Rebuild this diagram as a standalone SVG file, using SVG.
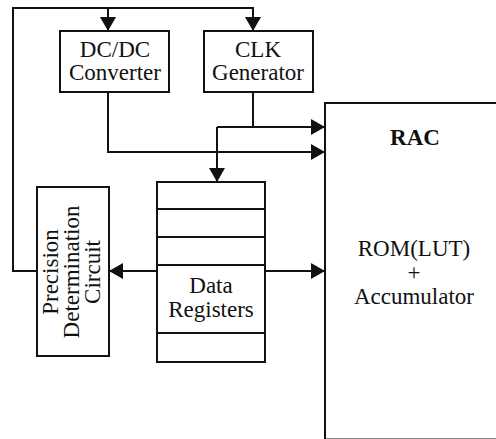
<svg xmlns="http://www.w3.org/2000/svg" width="496" height="439" viewBox="0 0 496 439">
<style>
.box{fill:#fff;stroke:#111;stroke-width:2}
.ln{fill:none;stroke:#111;stroke-width:2}
.t{font-family:"Liberation Serif","Times New Roman",serif;font-size:23px;fill:#111;text-anchor:middle}
.b{font-weight:bold}
</style>
<defs>
<marker id="ah" markerUnits="userSpaceOnUse" markerWidth="14" markerHeight="16" refX="14" refY="8" orient="auto">
<path d="M0,0 L14,8 L0,16 z" fill="#111"/>
</marker>
</defs>
<rect width="496" height="439" fill="#fff"/>
<g id="rac">
<rect class="box" x="325" y="103" width="200" height="336.5"/>
<text class="t b" x="415" y="145">RAC</text>
<text class="t" x="414" y="256">ROM(LUT)</text>
<text class="t" x="414" y="280">+</text>
<text class="t" x="414" y="304">Accumulator</text>
</g>
<g id="dcdc">
<rect class="box" x="60" y="31" width="109" height="61"/>
<text class="t" x="115" y="57">DC/DC</text>
<text class="t" x="115" y="80">Converter</text>
</g>
<g id="clk">
<rect class="box" x="204" y="31" width="109" height="61"/>
<text class="t" x="258" y="57">CLK</text>
<text class="t" x="258" y="80">Generator</text>
</g>
<g id="regs">
<rect class="box" x="157" y="182" width="108" height="180"/>
<path class="ln" d="M157,209 H265 M157,237 H265 M157,265 H265 M157,333 H265"/>
<text class="t" x="211" y="293">Data</text>
<text class="t" x="211" y="317">Registers</text>
</g>
<g id="precision">
<rect class="box" x="37" y="187" width="72" height="169"/>
<g transform="translate(73,272) rotate(-90)">
<text class="t" x="0" y="-15">Precision</text>
<text class="t" x="0" y="6">Determination</text>
<text class="t" x="0" y="27">Circuit</text>
</g>
</g>
<g id="connectors">
<path class="ln" d="M37,271 H13 V8 H253 V31" marker-end="url(#ah)"/>
<path class="ln" d="M108,8 V31" marker-end="url(#ah)"/>
<path class="ln" d="M108,92 V152 H325" marker-end="url(#ah)"/>
<path class="ln" d="M253,92 V127"/>
<path class="ln" d="M217,127 H325" marker-end="url(#ah)"/>
<path class="ln" d="M217,127 V182" marker-end="url(#ah)"/>
<path class="ln" d="M157,271 H109" marker-end="url(#ah)"/>
<path class="ln" d="M265,271 H325" marker-end="url(#ah)"/>
</g>
</svg>
